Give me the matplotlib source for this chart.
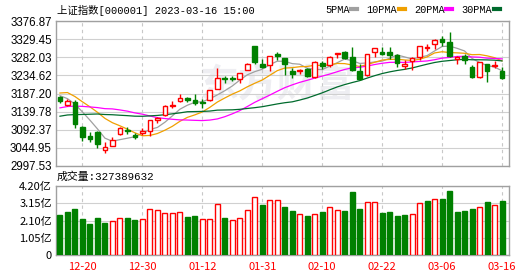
import numpy as np
import pandas as pd
import matplotlib
matplotlib.use('Agg')
import matplotlib.pyplot as plt
from matplotlib.lines import Line2D

# daily candles, 2022-12-15 .. 2023-03-16
dates = ['12-15', '12-16', '12-19', '12-20', '12-21', '12-22', '12-23', '12-26', '12-27', '12-28',
         '12-29', '12-30', '01-03', '01-04', '01-05', '01-06', '01-09', '01-10', '01-11', '01-12',
         '01-13', '01-16', '01-17', '01-18', '01-19', '01-20', '01-30', '01-31', '02-01', '02-02',
         '02-03', '02-06', '02-07', '02-08', '02-09', '02-10', '02-13', '02-14', '02-15', '02-16',
         '02-17', '02-20', '02-21', '02-22', '02-23', '02-24', '02-27', '02-28', '03-01', '03-02',
         '03-03', '03-06', '03-07', '03-08', '03-09', '03-10', '03-13', '03-14', '03-15', '03-16']
opens = [3177, 3158, 3166, 3100, 3076, 3086, 3039, 3050, 3080, 3091,
         3079, 3084, 3088, 3117, 3131, 3154, 3168, 3176, 3170, 3166,
         3171, 3200, 3228, 3227, 3224, 3250, 3312, 3266, 3262, 3292,
         3280, 3246, 3245, 3252, 3230, 3268, 3262, 3290, 3296, 3282,
         3246, 3236, 3295, 3296, 3296, 3288, 3260, 3272, 3284, 3306,
         3318, 3331, 3322, 3277, 3285, 3256, 3230, 3265, 3259, 3246]
highs = [3181, 3172, 3170, 3101, 3085, 3088, 3061, 3072, 3098, 3098,
         3084, 3096, 3118, 3126, 3156, 3168, 3186, 3179, 3186, 3172,
         3196, 3253, 3233, 3234, 3242, 3268, 3313, 3277, 3286, 3296,
         3281, 3253, 3252, 3255, 3272, 3272, 3286, 3294, 3300, 3310,
         3266, 3291, 3307, 3310, 3310, 3290, 3274, 3283, 3313, 3318,
         3331, 3337, 3348, 3285, 3290, 3262, 3270, 3266, 3273, 3258]
lows = [3161, 3155, 3097, 3063, 3060, 3043, 3031, 3049, 3078, 3082,
        3067, 3078, 3075, 3110, 3129, 3150, 3166, 3165, 3158, 3150,
        3168, 3199, 3215, 3220, 3214, 3248, 3265, 3253, 3247, 3275,
        3236, 3228, 3239, 3231, 3228, 3252, 3258, 3280, 3278, 3247,
        3222, 3232, 3283, 3288, 3278, 3258, 3252, 3250, 3276, 3300,
        3305, 3313, 3283, 3265, 3264, 3229, 3228, 3217, 3255, 3224]
closes = [3168.65, 3167.86, 3107.12, 3073.77, 3068.41, 3054.43, 3045.87, 3065.56, 3095.57, 3087.40,
          3073.70, 3089.26, 3116.51, 3123.52, 3155.22, 3157.64, 3176.08, 3169.51, 3161.84, 3163.45,
          3195.31, 3227.59, 3224.41, 3224.24, 3240.28, 3264.81, 3269.32, 3255.67, 3284.92, 3285.67,
          3263.41, 3238.70, 3248.09, 3232.11, 3270.38, 3260.67, 3284.16, 3293.28, 3280.49, 3249.03,
          3224.02, 3290.34, 3306.52, 3291.15, 3287.48, 3267.16, 3264.00, 3279.61, 3312.35, 3310.65,
          3328.39, 3322.03, 3285.10, 3283.25, 3276.09, 3230.08, 3268.70, 3245.31, 3263.31, 3226.89]
# closes before the window (needed for the moving averages)
prior_closes = [3070.80, 3077.82, 3064.49, 3048.17, 3036.13, 3087.29, 3083.40, 3134.08, 3119.98, 3115.43,
                3097.24, 3085.04, 3088.94, 3096.91, 3089.31, 3101.69, 3078.55, 3149.75, 3151.34, 3165.47,
                3156.14, 3211.81, 3212.53, 3199.62, 3197.35, 3206.95, 3179.04, 3176.53, 3176.33]

# volume in 亿 (1e8), red = up day
volumes = [2.44, 2.63, 2.81, 2.18, 1.90, 2.26, 1.96, 2.06, 2.24, 2.26,
           2.14, 2.18, 2.79, 2.73, 2.54, 2.54, 2.60, 2.32, 2.38, 2.18,
           2.18, 3.09, 2.26, 2.12, 2.24, 2.73, 3.51, 3.05, 3.37, 3.33,
           2.91, 2.67, 2.48, 2.38, 2.52, 2.60, 2.95, 2.73, 2.67, 3.82,
           2.79, 3.25, 3.25, 2.54, 2.60, 2.38, 2.44, 2.48, 3.19, 3.27,
           3.43, 3.39, 3.88, 2.60, 2.67, 2.79, 2.95, 3.21, 3.03, 3.27389632]
vol_up = [0, 0, 0, 0, 0, 0, 0, 1, 1, 0,
          0, 1, 1, 1, 1, 1, 1, 0, 0, 1,
          1, 1, 0, 1, 1, 1, 1, 0, 1, 1,
          0, 0, 1, 0, 1, 0, 1, 1, 0, 0,
          0, 1, 1, 0, 0, 0, 0, 1, 1, 0,
          1, 0, 0, 0, 0, 0, 1, 0, 1, 0]
last_volume = '327389632'

price_ticks = [2997.53, 3044.95, 3092.37, 3139.78, 3187.20, 3234.62, 3282.03, 3329.45, 3376.87]
vol_ticks = [0, 1.05, 2.10, 3.15, 4.20]
vol_labels = ['0', '1.05亿', '2.10亿', '3.15亿', '4.20亿']

ma_periods = [5, 10, 20, 30]
ma_colors = ['#a0a0a0', '#f0a000', '#ff00ff', '#006b2d']

RED = '#ff0000'
GREEN = '#008000'
CJK = ['Noto Sans CJK SC', 'DejaVu Sans']
MONO = ['Liberation Mono', 'Noto Sans CJK SC']

plt.rcParams['font.family'] = CJK

fig = plt.figure(figsize=(5.3, 2.76), dpi=100)
W, H = 530, 276
ax = fig.add_axes([56 / W, 1 - 165.7 / H, 453 / W, 144.4 / H])
axv = fig.add_axes([56 / W, 1 - 255 / H, 453 / W, 69 / H])

x = np.arange(len(dates))
o = np.array(opens, float)
c = np.array(closes, float)
hi = np.array(highs, float)
lo = np.array(lows, float)
up = c >= o
col = np.where(up, RED, GREEN)

# moving averages
allc = pd.Series(prior_closes + closes)
for n, mc in zip(ma_periods, ma_colors):
    ma = allc.rolling(n).mean().iloc[len(prior_closes):].values
    ax.plot(x, ma, color=mc, lw=0.9, zorder=2)

# candles
ax.vlines(x, lo, hi, colors=col, lw=1.0, zorder=3)
body_b = np.minimum(o, c)
body_h = np.maximum(np.abs(c - o), 0.9)
ax.bar(x, body_h, bottom=body_b, width=0.62, color=np.where(up, 'white', GREEN),
       edgecolor=col, linewidth=1.0, zorder=4)

# volume
vup = np.array(vol_up, bool)
vcol = np.where(vup, RED, GREEN)
axv.bar(x, volumes, width=0.66, color=np.where(vup, 'white', GREEN),
        edgecolor=vcol, linewidth=1.0, zorder=3)

tick_idx = x[3::8]
for a in (ax, axv):
    a.set_xlim(-0.53, 59.93)
    for s in a.spines.values():
        s.set_color('#a0a0a0')
        s.set_linewidth(1.0)
    a.tick_params(length=0, pad=3)
    for t in tick_idx:
        a.axvline(t, color='#c8c8c8', lw=0.8, ls=(0, (3, 3)), zorder=1)

ax.set_ylim(price_ticks[0], price_ticks[-1])
ax.set_yticks(price_ticks)
ax.set_yticklabels(['%.2f' % v for v in price_ticks], fontsize=8.3, family='Liberation Sans')
ax.set_xticks([])
ax.grid(axis='y', color='#d0d0d0', lw=0.8)
ax.set_axisbelow(True)

axv.set_ylim(0, 4.2)
axv.set_yticks(vol_ticks)
axv.set_yticklabels(vol_labels, fontsize=8)
axv.grid(axis='y', color='#d0d0d0', lw=0.8)
axv.set_axisbelow(True)
axv.set_xticks(tick_idx)
axv.set_xticklabels([dates[i] for i in tick_idx], color=RED, fontsize=8)
axv.tick_params(axis='x', pad=5)

# faint watermark
ax.text(0.49, 0.55, '东方财富', transform=ax.transAxes, fontsize=28, fontweight='bold',
        color='#eeeef2', ha='center', va='center', style='italic', zorder=0)

fig.text(57 / W, 1 - 10 / H, '上证指数[000001] 2023-03-16 15:00', fontsize=7.5,
         family=MONO, va='center', ha='left')
fig.text(57 / W, 1 - 177 / H, '成交量:' + last_volume, fontsize=7.8, family=MONO,
         va='center', ha='left')

handles = [Line2D([], [], color=mc, lw=3) for mc in ma_colors]
labels = ['%dPMA' % n for n in ma_periods]
fig.legend(handles, labels, loc='center right', bbox_to_anchor=(500 / W, 1 - 10 / H),
           ncol=4, markerfirst=False, frameon=False, handlelength=0.6,
           prop={'family': 'Liberation Mono', 'size': 7.4},
           handletextpad=0.15, columnspacing=0.9, borderpad=0, borderaxespad=0)

fig.savefig('out.png', dpi=100)
